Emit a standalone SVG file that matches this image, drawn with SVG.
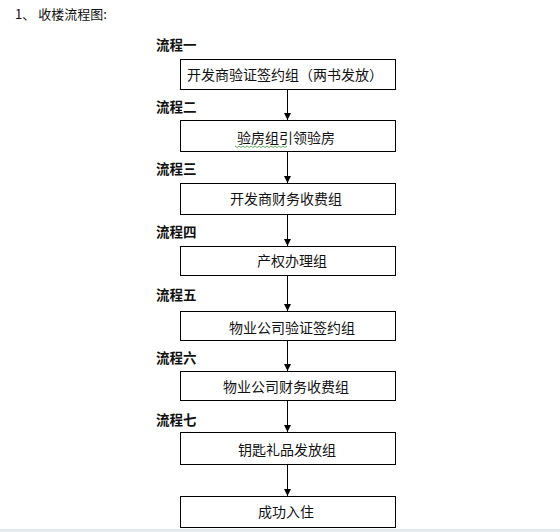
<svg xmlns="http://www.w3.org/2000/svg" width="560" height="532" viewBox="0 0 560 532">
<defs>
<style>
text{font-family:"Noto Sans CJK SC","Noto Sans",sans-serif;fill:#111;}
.title{font-size:13px;}
.step{font-size:13.5px;font-weight:bold;}
.box rect{fill:#fff;stroke:#000;stroke-width:1;}
.box text{font-size:14px;text-anchor:middle;}
.conn line{stroke:#000;stroke-width:1;}
</style>
<marker id="ah" markerWidth="8" markerHeight="8" refX="7" refY="4" orient="auto" markerUnits="userSpaceOnUse">
<path d="M0,0.5 L7,4 L0,7.5 Z" fill="#000"/>
</marker>
</defs>
<rect width="560" height="532" fill="#fff"/>
<rect x="0" y="529" width="560" height="3" fill="#e4e9ee"/>
<text class="title" x="15" y="19">1、 收楼流程图:</text>
<g id="labels">
<text class="step" x="156" y="50">流程一</text>
<text class="step" x="156" y="112">流程二</text>
<text class="step" x="156" y="174">流程三</text>
<text class="step" x="156" y="237">流程四</text>
<text class="step" x="156" y="300">流程五</text>
<text class="step" x="156" y="363">流程六</text>
<text class="step" x="156" y="425">流程七</text>
</g>
<g class="conn">
<line x1="287.5" y1="89" x2="287.5" y2="120" marker-end="url(#ah)"/>
<line x1="287.5" y1="152" x2="287.5" y2="183" marker-end="url(#ah)"/>
<line x1="287.5" y1="214" x2="287.5" y2="246" marker-end="url(#ah)"/>
<line x1="287.5" y1="276" x2="287.5" y2="311" marker-end="url(#ah)"/>
<line x1="287.5" y1="341" x2="287.5" y2="371" marker-end="url(#ah)"/>
<line x1="287.5" y1="400" x2="287.5" y2="432" marker-end="url(#ah)"/>
<line x1="287.5" y1="464" x2="287.5" y2="496" marker-end="url(#ah)"/>
</g>
<g id="n1" class="box"><rect x="180.5" y="59.5" width="215" height="30"/><text x="285" y="80">开发商验证签约组（两书发放）</text></g>
<g id="n2" class="box"><rect x="180.5" y="120.5" width="215" height="31"/><text x="286" y="143">验房组引领验房</text>
<path d="M235,146 l2,1.5 l2,-1.5 l2,1.5 l2,-1.5 l2,1.5 l2,-1.5 l2,1.5 l2,-1.5 l2,1.5 l2,-1.5 l2,1.5 l2,-1.5 l2,1.5 l2,-1.5 l2,1.5 l2,-1.5 l2,1.5 l2,-1.5 l2,1.5 l2,-1.5 l2,1.5 l2,-1.5 l2,1.5 l2,-1.5 l2,1.5 l2,-1.5" fill="none" stroke="#3a9a3a" stroke-width="0.8"/></g>
<g id="n3" class="box"><rect x="180.5" y="183.5" width="215" height="31"/><text x="286" y="204">开发商财务收费组</text></g>
<g id="n4" class="box"><rect x="180.5" y="246.5" width="215" height="29"/><text x="292" y="266">产权办理组</text></g>
<g id="n5" class="box"><rect x="180.5" y="311.5" width="215" height="29"/><text x="292" y="333">物业公司验证签约组</text></g>
<g id="n6" class="box"><rect x="180.5" y="371.5" width="215" height="29"/><text x="286" y="392">物业公司财务收费组</text></g>
<g id="n7" class="box"><rect x="180.5" y="432.5" width="215" height="32"/><text x="287" y="455">钥匙礼品发放组</text></g>
<g id="n8" class="box"><rect x="180.5" y="496.5" width="215" height="31"/><text x="286" y="517">成功入住</text></g>
</svg>
